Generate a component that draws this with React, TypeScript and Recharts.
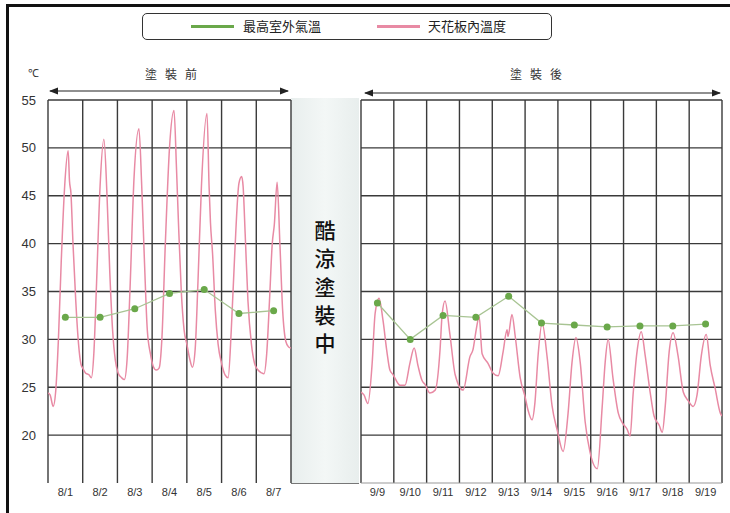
import React from 'react';
import { LineChart, Line, XAxis, YAxis, CartesianGrid, ReferenceLine } from 'recharts';

const PINK = '#e88aa4';
const GREEN_LINE = '#a8c493';
const GREEN_DOT = '#6aa84a';
const GRID = '#3a3a3a';

// 塗裝前 (8/1 - 8/7)
const beforeDays = ['8/1', '8/2', '8/3', '8/4', '8/5', '8/6', '8/7'];
const beforeMaxOutdoor = [32.3, 32.3, 33.2, 34.8, 35.2, 32.7, 33.0];

// ceiling temperature, time in days from 8/1 0:00
const beforeTime = [
  0, 0.06, 0.15, 0.22, 0.3, 0.38, 0.48, 0.58, 0.62, 0.66, 0.72, 0.8, 0.88, 0.95,
  1.0, 1.08, 1.18, 1.25, 1.32, 1.4, 1.5, 1.61, 1.7, 1.78, 1.86, 1.94,
  2.02, 2.12, 2.2, 2.28, 2.36, 2.48, 2.62, 2.7, 2.78, 2.86, 2.95,
  3.03, 3.12, 3.2, 3.28, 3.38, 3.5, 3.63, 3.7, 3.76, 3.84, 3.92,
  4.0, 4.08, 4.16, 4.24, 4.32, 4.42, 4.58, 4.64, 4.68, 4.74, 4.82, 4.9,
  5.0, 5.1, 5.19, 5.28, 5.38, 5.5, 5.58, 5.62, 5.68, 5.76, 5.86, 5.95,
  6.05, 6.15, 6.22, 6.3, 6.38, 6.46, 6.52, 6.6, 6.68, 6.76, 6.85, 6.93, 7.0,
];
const beforeCeiling = [
  24.4, 24.2, 23.0, 24.5, 30, 38, 46, 49.7, 46.5, 45.3, 40, 34, 29.5, 27.4,
  27.0, 26.5, 26.3, 26.0, 28.5, 36, 46, 50.9, 45, 37, 31, 27.8,
  26.5, 26.0, 25.8, 28, 35, 47, 52.0, 46, 38, 31, 28.5,
  27.2, 26.8, 27.0, 30, 40, 50, 53.9, 48, 42, 35, 31,
  29.5, 28, 27.1, 29, 36, 46, 53.6, 46, 42.2, 39, 33, 29.5,
  27.5, 26.3, 26.0, 31, 39, 46.3, 47.0, 46.0, 41, 34, 29.5, 27.5,
  26.8, 26.5, 26.4, 28.5, 34, 40, 42, 46.4, 40, 33, 29.8, 29.2, 29.1,
];

// 塗裝後 (9/9 - 9/19)
const afterDays = ['9/9', '9/10', '9/11', '9/12', '9/13', '9/14', '9/15', '9/16', '9/17', '9/18', '9/19'];
const afterMaxOutdoor = [33.8, 30.0, 32.5, 32.3, 34.5, 31.7, 31.5, 31.3, 31.4, 31.4, 31.6];

// ceiling temperature, time in days from 9/9 0:00
const afterTime = [
  0, 0.09, 0.21, 0.34, 0.43, 0.55, 0.67, 0.79, 0.88, 0.98,
  1.19, 1.34, 1.49, 1.62, 1.74, 1.86, 1.95,
  2.1, 2.26, 2.41, 2.47, 2.56, 2.71, 2.87,
  3.11, 3.32, 3.41, 3.51, 3.6, 3.69, 3.87,
  4.02, 4.18, 4.33, 4.45, 4.48, 4.6, 4.7, 4.85,
  5.0, 5.09, 5.21, 5.3, 5.4, 5.52, 5.67, 5.82, 5.98,
  6.16, 6.31, 6.43, 6.55, 6.68, 6.83, 6.98,
  7.2, 7.35, 7.44, 7.53, 7.68, 7.84, 7.96,
  8.11, 8.2, 8.29, 8.41, 8.54, 8.66, 8.81, 8.93,
  9.09, 9.18, 9.27, 9.39, 9.51, 9.66, 9.82, 9.97,
  10.12, 10.24, 10.37, 10.52, 10.64, 10.79, 10.95, 11.0,
];
const afterCeiling = [
  24.5, 24.2, 23.3, 27.5, 32.7, 34.3, 32, 28.7, 26.8, 26.3,
  25.2, 25.2, 27.5, 29.1, 27.2, 25.7, 25.3,
  24.4, 24.7, 29, 32.5, 34.0, 30.5, 26.3,
  24.7, 28.2, 28.9, 31, 32.4, 28.5, 27.5,
  26.5, 26.2, 28.7, 31.0, 30.3, 32.6, 30.3, 26,
  24.0, 22.6, 21.6, 23.4, 28.5, 31.7, 28.2, 23.1, 20.5,
  18.3, 22.3, 27.6, 30.2, 27.6, 21.4, 18.2,
  16.5, 23, 27.6, 30.0, 25.9, 22.3, 21.3,
  20.6, 19.9, 24.2, 28.7, 30.8, 28.3, 24.5, 22,
  21, 20.3, 23, 28.7, 30.7, 28.3, 24.5, 23.6,
  23, 24.2, 28.3, 30.5, 27.3, 24.9, 22.3, 22.0,
];

const yTicks = [20, 25, 30, 35, 40, 45, 50, 55];

const beforeCeilingData = beforeTime.map((t, i) => ({ t, v: beforeCeiling[i] }));
const beforeOutdoorData = beforeMaxOutdoor.map((v, i) => ({ t: i + 0.5, v }));
const afterCeilingData = afterTime.map((t, i) => ({ t, v: afterCeiling[i] }));
const afterOutdoorData = afterMaxOutdoor.map((v, i) => ({ t: i + 0.5, v }));

const tickFont = { fontFamily: '"Liberation Sans", Arial, sans-serif' };
const cjk = '"Noto Sans CJK TC", "Noto Sans CJK SC", sans-serif';

interface PanelProps {
  days: string[];
  ceiling: { t: number; v: number }[];
  outdoor: { t: number; v: number }[];
  width: number;
  left: number;
  margin: { top: number; right: number; bottom: number; left: number };
  showY: boolean;
  baseLine?: boolean;
}

const Panel: React.FC<PanelProps> = ({ days, ceiling, outdoor, width, left, margin, showY, baseLine }) => {
  const centers = days.map((_, i) => i + 0.5);
  const bounds = [0, ...days.map((_, i) => i + 1)];
  return (
    <div style={{ position: 'absolute', left, top: 0 }}>
      <LineChart width={width} height={513} margin={margin}>
        <CartesianGrid stroke={GRID} strokeWidth={1.4} verticalValues={bounds} horizontalValues={yTicks} />
        {baseLine && <ReferenceLine y={15} stroke="#999" strokeWidth={1.2} />}
        <XAxis
          type="number"
          dataKey="t"
          domain={[0, days.length]}
          ticks={centers}
          tickFormatter={(v: number) => days[Math.round(v - 0.5)]}
          axisLine={false}
          tickLine={false}
          tickSize={5}
          tickMargin={0}
          height={30}
          interval={0}
          tick={{ fill: '#333', fontSize: 11, ...tickFont }}
          allowDataOverflow
        />
        <YAxis
          type="number"
          domain={[15, 55]}
          ticks={yTicks}
          hide={!showY}
          width={40}
          axisLine={false}
          tickLine={false}
          tickMargin={6}
          tick={{ fill: '#333', fontSize: 13, ...tickFont }}
        />
        <Line
          data={ceiling}
          dataKey="v"
          type="monotone"
          stroke={PINK}
          strokeWidth={1.5}
          dot={false}
          isAnimationActive={false}
        />
        <Line
          data={outdoor}
          dataKey="v"
          type="linear"
          stroke={GREEN_LINE}
          strokeWidth={1.3}
          dot={{ r: 3.5, fill: GREEN_DOT, stroke: 'none' }}
          isAnimationActive={false}
        />
      </LineChart>
    </div>
  );
};

export default function App() {
  return (
    <div style={{ position: 'absolute', left: 0, top: 0, width: 730, height: 513, background: '#fff', overflow: 'hidden' }}>
      {/* frame */}
      <div style={{ position: 'absolute', left: 6, top: 4, width: 740, height: 530, borderLeft: '3px solid #111', borderTop: '3px solid #111' }} />

      {/* legend */}
      <div
        style={{
          position: 'absolute', left: 142, top: 13, width: 408, height: 25,
          border: '1.5px solid #333', borderRadius: 5, fontFamily: cjk, fontSize: 13, color: '#222',
        }}
      >
        <div style={{ position: 'absolute', left: 48, top: 11, width: 43, height: 3, background: GREEN_DOT }} />
        <div style={{ position: 'absolute', left: 100, top: 3, lineHeight: '18px' }}>最高室外氣溫</div>
        <div style={{ position: 'absolute', left: 234, top: 11, width: 43, height: 3, background: PINK }} />
        <div style={{ position: 'absolute', left: 285, top: 3, lineHeight: '18px' }}>天花板內溫度</div>
      </div>

      {/* 酷涼塗裝中 panel */}
      <div
        style={{
          position: 'absolute', left: 291, top: 98, width: 68, height: 385,
          background: 'linear-gradient(90deg, #e8eeed, #f3f7f6 50%, #e8eeed)',
          borderBottom: '1.4px solid #777',
        }}
      >
        <div
          style={{
            position: 'absolute', left: 0, width: 68, top: 117, textAlign: 'center',
            fontFamily: cjk, fontSize: 21, lineHeight: '28.3px', color: '#111', fontWeight: 500,
          }}
        >
          {'酷涼塗裝中'.split('').map((c) => (
            <div key={c}>{c}</div>
          ))}
        </div>
      </div>

      <Panel
        days={beforeDays}
        ceiling={beforeCeilingData}
        outdoor={beforeOutdoorData}
        width={300}
        left={0}
        margin={{ top: 100, right: 9, bottom: 0, left: 8 }}
        showY
      />
      <Panel
        days={afterDays}
        ceiling={afterCeilingData}
        outdoor={afterOutdoorData}
        width={410}
        left={320}
        margin={{ top: 100, right: 8, bottom: 0, left: 41 }}
        showY={false}
        baseLine
      />

      {/* header: unit and before/after arrows */}
      <svg width={730} height={100} style={{ position: 'absolute', left: 0, top: 0 }}>
        <defs>
          <marker id="ah" markerWidth="8" markerHeight="6" refX="7" refY="3" orient="auto-start-reverse">
            <path d="M0,0 L8,3 L0,6 z" fill="#222" />
          </marker>
        </defs>
        <text x={28} y={77} fontSize={11} fill="#333" style={tickFont}>℃</text>
        <text x={175} y={79} fontSize={12} fill="#333" textAnchor="middle" letterSpacing={8} style={{ fontFamily: cjk }}>塗裝前</text>
        <text x={540} y={79} fontSize={12} fill="#333" textAnchor="middle" letterSpacing={8} style={{ fontFamily: cjk }}>塗裝後</text>
        <line x1={50} y1={91} x2={288} y2={91} stroke="#222" strokeWidth={1.2} markerStart="url(#ah)" markerEnd="url(#ah)" />
        <line x1={365} y1={93} x2={720} y2={93} stroke="#222" strokeWidth={1.2} markerStart="url(#ah)" markerEnd="url(#ah)" />
      </svg>
    </div>
  );
}
